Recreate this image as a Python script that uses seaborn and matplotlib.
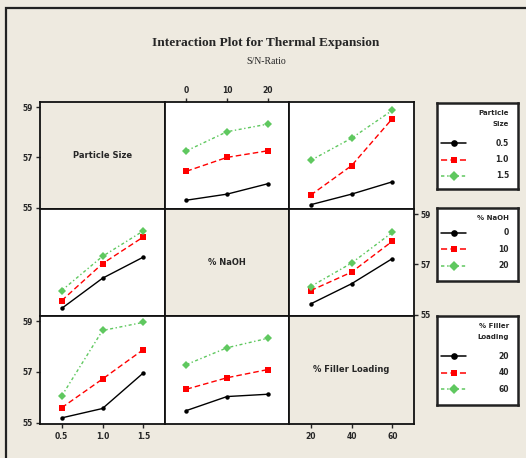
import numpy as np
import pandas as pd
import matplotlib
matplotlib.use("Agg")
import matplotlib.pyplot as plt
from matplotlib.lines import Line2D
from matplotlib.patches import Rectangle
import seaborn as sns

# Factor levels
particle = [0.5, 1.0, 1.5]
naoh = [0, 10, 20]
filler = [20, 40, 60]

particle_labels = ["0.5", "1.0", "1.5"]
naoh_labels = ["0", "10", "20"]
filler_labels = ["20", "40", "60"]

# Mean S/N ratios: outer index = trace factor level, inner index = x factor level
sn_naoh_by_particle = [[55.30, 55.54, 55.95], [56.45, 57.00, 57.26], [57.26, 58.02, 58.32]]
sn_filler_by_particle = [[55.12, 55.54, 56.03], [55.50, 56.67, 58.54], [56.88, 57.76, 58.87]]
sn_particle_by_naoh = [[55.25, 56.45, 57.29], [55.56, 57.03, 58.09], [55.96, 57.32, 58.33]]
sn_filler_by_naoh = [[55.43, 56.23, 57.23], [55.96, 56.69, 57.92], [56.12, 57.05, 58.27]]
sn_particle_by_filler = [[55.19, 55.56, 56.96], [55.59, 56.72, 57.88], [56.05, 58.63, 58.95]]
sn_naoh_by_filler = [[55.48, 56.03, 56.12], [56.32, 56.77, 57.09], [57.29, 57.95, 58.32]]

y_ticks = [55, 57, 59]

factors = ["Particle Size", "% NaOH", "% Filler Loading"]
legend_titles = ["Particle\nSize", "% NaOH", "% Filler\nLoading"]
levels = [particle, naoh, filler]
level_labels = [particle_labels, naoh_labels, filler_labels]

# (row factor = traces, col factor = x axis) -> means
panels = {
    (0, 1): sn_naoh_by_particle,
    (0, 2): sn_filler_by_particle,
    (1, 0): sn_particle_by_naoh,
    (1, 2): sn_filler_by_naoh,
    (2, 0): sn_particle_by_filler,
    (2, 1): sn_naoh_by_filler,
}

BG = "#EEEAE0"
colors = ["#000000", "#FF0000", "#5FC85F"]
markers_list = ["o", "s", "D"]
marker_sizes = [3.2, 4.2, 4.2]
dash_list = ["", (4, 2.2), (2.2, 1.8, 1, 1.8)]

W, H = 526, 458
fig = plt.figure(figsize=(W / 100, H / 100), dpi=100, facecolor=BG)
sns.set_style("white")

def fx(px):
    return px / W

def fy(py):
    return 1 - py / H

# outer frame
fig.patches.append(Rectangle((fx(6), fy(470)), fx(530) - fx(6), fy(8) - fy(470),
                             transform=fig.transFigure, fill=False, lw=1.6,
                             edgecolor="#222222", zorder=0))

fig.text(fx(266), fy(43), "Interaction Plot for Thermal Expansion",
         ha="center", va="center", fontsize=9.6, fontweight="bold",
         family="Liberation Serif")
fig.text(fx(266), fy(62), "S/N-Ratio", ha="center", va="center",
         fontsize=7, family="Liberation Serif")

col_edges = [40, 165, 289, 414]
row_edges = [102, 209, 316, 424]
ylim = (54.95, 59.2)

tick_font = dict(fontsize=5.5, fontweight="bold")

for r in range(3):
    for c in range(3):
        x0, x1 = col_edges[c], col_edges[c + 1]
        y0, y1 = row_edges[r], row_edges[r + 1]
        ax = fig.add_axes([fx(x0), fy(y1), fx(x1) - fx(x0), fy(y0) - fy(y1)])
        lv = levels[c]
        step = lv[1] - lv[0]
        ax.set_xlim(lv[0] - 0.53 * step, lv[-1] + 0.53 * step)
        ax.set_ylim(*ylim)
        for s in ax.spines.values():
            s.set_linewidth(1.3)
            s.set_color("#111111")
        ax.set_xticks([])
        ax.set_yticks([])
        if r == c:
            ax.set_facecolor(BG)
            ax.text(0.5, 0.5, factors[r], transform=ax.transAxes, ha="center",
                    va="center", fontsize=6, fontweight="bold")
        else:
            ax.set_facecolor("white")
            means = panels[(r, c)]
            trace_levels = level_labels[r]
            df = pd.DataFrame({
                "x": np.tile(lv, 3),
                "y": np.concatenate(means),
                "trace": np.repeat(trace_levels, 3),
            })
            sns.lineplot(data=df, x="x", y="y", hue="trace", style="trace",
                         palette=dict(zip(trace_levels, colors)),
                         markers=dict(zip(trace_levels, markers_list)),
                         dashes=dict(zip(trace_levels, dash_list)),
                         markersize=4, markeredgewidth=0, linewidth=1.0,
                         legend=False, ax=ax)
            for line, ms in zip(ax.get_lines(), marker_sizes):
                line.set_markersize(ms)
            ax.set_xlabel("")
            ax.set_ylabel("")
            ax.set_xlim(lv[0] - 0.53 * step, lv[-1] + 0.53 * step)
            ax.set_ylim(*ylim)

        # alternating scales along the matrix edges
        if c == 0 and r in (0, 2):
            ax.set_yticks(y_ticks)
            ax.set_yticklabels([str(t) for t in y_ticks], **tick_font)
            ax.tick_params(axis="y", left=True, length=3, width=1, pad=2)
        if c == 2 and r == 1:
            ax.yaxis.tick_right()
            ax.set_yticks(y_ticks)
            ax.set_yticklabels([str(t) for t in y_ticks], **tick_font)
            ax.tick_params(axis="y", right=True, length=3, width=1, pad=2)
        if r == 0 and c == 1:
            ax.xaxis.tick_top()
            ax.set_xticks(lv)
            ax.set_xticklabels(level_labels[c], **tick_font)
            ax.tick_params(axis="x", top=True, length=3, width=1, pad=2)
        if r == 2 and c in (0, 2):
            ax.set_xticks(lv)
            ax.set_xticklabels(level_labels[c], **tick_font)
            ax.tick_params(axis="x", bottom=True, length=3, width=1, pad=3)

# legend boxes, one per trace factor
legend_boxes = [(103, 189), (208, 281), (316, 405)]
lx0, lx1 = 437, 518
for i, (ly0, ly1) in enumerate(legend_boxes):
    lax = fig.add_axes([fx(lx0), fy(ly1), fx(lx1) - fx(lx0), fy(ly0) - fy(ly1)])
    lax.set_xlim(lx0, lx1)
    lax.set_ylim(ly1, ly0)
    lax.set_facecolor("white")
    lax.set_xticks([])
    lax.set_yticks([])
    for s in lax.spines.values():
        s.set_linewidth(1.8)
        s.set_color("#222222")
    n_title = legend_titles[i].count("\n") + 1
    lax.text(509, ly0 + 7, legend_titles[i], ha="right", va="top",
             fontsize=5, fontweight="bold", linespacing=1.9)
    first = ly0 + 7 + 15 * n_title + 3
    for k in range(3):
        yy = first + k * 16.5
        lax.add_line(Line2D([441, 466], [yy, yy], color=colors[k], lw=1.1,
                            dashes=dash_list[k] if dash_list[k] else (None, None),
                            linestyle="-" if not dash_list[k] else "--"))
        lax.plot([453.5], [yy], marker=markers_list[k], color=colors[k],
                 markersize=4.8, markeredgewidth=0)
        lax.text(509, yy, level_labels[i][k], ha="right", va="center",
                 fontsize=5.5, fontweight="bold")

fig.savefig("out.png", dpi=100, facecolor=BG)
